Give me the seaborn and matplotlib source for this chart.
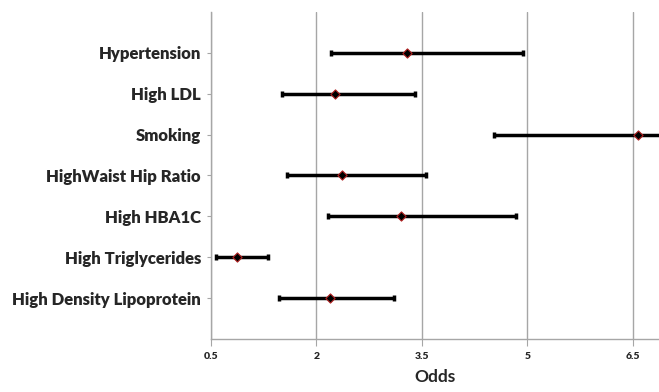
import numpy as np
import pandas as pd
import matplotlib
matplotlib.use("Agg")
import matplotlib.pyplot as plt
import seaborn as sns

#Risk factors, top to bottom, with odds and confidence interval
factors = ["Hypertension", "High LDL", "Smoking", "HighWaist Hip Ratio",
           "High HBA1C", "High Triglycerides", "High Density Lipoprotein"]
odds = [3.29, 2.27, 6.57, 2.36, 3.21, 0.88, 2.20]
ci_low = [2.21, 1.51, 4.53, 1.59, 2.16, 0.575, 1.47]
ci_high = [4.94, 3.40, 7.20, 3.56, 4.84, 1.31, 3.10]
x_ticks = [0.5, 2, 3.5, 5, 6.5]

df = pd.DataFrame({"Factor": factors, "Odds": odds, "Low": ci_low, "High": ci_high})
df["pos"] = np.arange(1, len(df) + 1)

sns.set_style("white")
plt.rcParams["font.family"] = ["Lato", "DejaVu Sans"]

fig = plt.figure(figsize=(6.59, 3.92), dpi=100)
ax = fig.add_axes([0.3197, 0.1352, 0.6803, 0.8342])

#Grid lines at each x tick
for t in x_ticks:
    ax.axvline(t, color="#a6a6a6", lw=1, zorder=0)

#Confidence interval bars
ax.errorbar(df["Odds"], df["pos"],
            xerr=[df["Odds"] - df["Low"], df["High"] - df["Odds"]],
            fmt="none", ecolor="black", elinewidth=2.5, capsize=2.5, capthick=2.5, zorder=2)

#Point estimates
sns.scatterplot(data=df, x="Odds", y="pos", ax=ax, marker="D", s=22,
                color="black", edgecolor="#b22222", linewidth=0.8, zorder=3, legend=False)

ax.set_xlim(0.5, 6.87)
ax.set_ylim(8, 0)
ax.set_xticks(x_ticks)
ax.set_xticklabels(["0.5", "2", "3.5", "5", "6.5"], fontsize=7.5, fontweight="heavy")
ax.set_yticks(df["pos"])
ax.set_yticklabels(df["Factor"], fontsize=12, fontweight="heavy")

for s in ["top", "right"]:
    ax.spines[s].set_visible(False)
for s in ["left", "bottom"]:
    ax.spines[s].set_color("#a6a6a6")
    ax.spines[s].set_linewidth(1)

ax.tick_params(axis="x", length=5, color="#a6a6a6", pad=4, bottom=True)
ax.tick_params(axis="y", length=3, color="#a6a6a6", pad=4, left=True)
ax.set_xlabel("Odds", fontsize=12.5, fontweight="bold", labelpad=6)
ax.set_ylabel("")

plt.savefig("out.png", dpi=100)
